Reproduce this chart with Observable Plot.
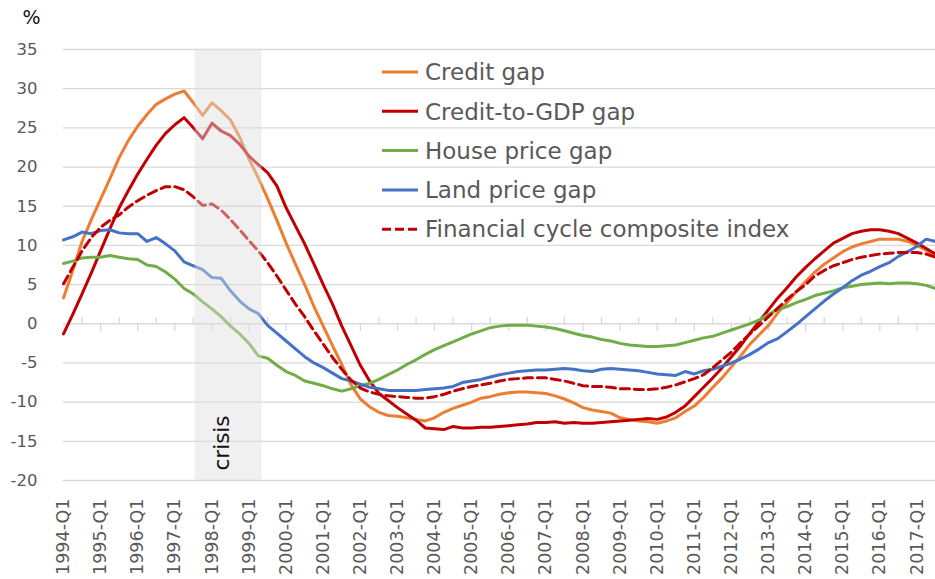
<!DOCTYPE html>
<html>
<head>
<meta charset="utf-8">
<script src="https://cdn.jsdelivr.net/npm/d3@7"></script>
<script src="https://cdn.jsdelivr.net/npm/@observablehq/plot@0.6"></script>
<style>
  html, body { margin: 0; padding: 0; background: #fff; }
  #chart { width: 935px; height: 579px; }
</style>
</head>
<body>
<div id="chart"></div>
<script>
// ---- Data ----
const startYear = 1994;
const nQuarters = 95; // 1994-Q1 .. 2017-Q3
const quarters = Array.from({length: nQuarters}, (_, i) => `${startYear + Math.floor(i / 4)}-Q${(i % 4) + 1}`);

const xTickLabels = ["1994-Q1","1995-Q1","1996-Q1","1997-Q1","1998-Q1","1999-Q1","2000-Q1","2001-Q1",
  "2002-Q1","2003-Q1","2004-Q1","2005-Q1","2006-Q1","2007-Q1","2008-Q1","2009-Q1","2010-Q1","2011-Q1",
  "2012-Q1","2013-Q1","2014-Q1","2015-Q1","2016-Q1","2017-Q1"];
const yTicks = [-20, -15, -10, -5, 0, 5, 10, 15, 20, 25, 30, 35];

const crisisPeriod = ["1997-Q3", "1999-Q2"];

const creditGap = [
  3.3, 6.8, 10.5, 13.3, 15.9, 18.5, 21.2, 23.4, 25.2, 26.7, 28.0, 28.7, 29.3, 29.7, 28.2, 26.6,
  28.2, 27.2, 26.0, 23.8, 21.0, 18.6, 16.0, 13.2, 10.3, 7.6, 5.0, 2.2, -0.3, -2.8, -5.2, -7.8,
  -9.6, -10.6, -11.3, -11.7, -11.8, -12.0, -12.2, -12.4, -12.0, -11.3, -10.8, -10.4, -10.0, -9.5, -9.3, -9.0,
  -8.8, -8.7, -8.7, -8.8, -8.9, -9.2, -9.6, -10.1, -10.7, -11.0, -11.2, -11.4, -12.0, -12.2, -12.4, -12.5,
  -12.7, -12.4, -12.0, -11.2, -10.5, -9.4, -8.1, -6.9, -5.5, -4.1, -2.6, -1.4, -0.2, 1.4, 2.7, 4.1,
  5.4, 6.6, 7.6, 8.4, 9.2, 9.8, 10.2, 10.5, 10.8, 10.8, 10.8, 10.5, 10.0, 9.4, 8.8
];
const creditToGdpGap = [
  -1.3, 1.2, 3.8, 6.5, 9.3, 12.1, 14.8, 17.0, 19.1, 21.0, 22.8, 24.3, 25.4, 26.3, 25.0, 23.6,
  25.6, 24.6, 24.0, 22.9, 21.4, 20.3, 19.3, 17.6, 14.8, 12.5, 10.2, 7.6, 5.0, 2.5, -0.3, -2.8,
  -5.3, -7.3, -8.9, -9.8, -10.7, -11.5, -12.3, -13.3, -13.4, -13.5, -13.1, -13.3, -13.3, -13.2, -13.2, -13.1,
  -13.0, -12.9, -12.8, -12.6, -12.6, -12.5, -12.7, -12.6, -12.7, -12.7, -12.6, -12.5, -12.4, -12.3, -12.2, -12.1,
  -12.2, -11.9, -11.3, -10.5, -9.3, -8.1, -6.9, -5.6, -4.2, -2.8, -1.2, 0.3, 1.8, 3.3, 4.6, 6.0,
  7.2, 8.3, 9.3, 10.3, 10.9, 11.5, 11.8, 12.0, 12.0, 11.8, 11.5, 10.9, 10.3, 9.6, 8.9
];
const housePriceGap = [
  7.7, 8.0, 8.4, 8.5, 8.5, 8.7, 8.5, 8.3, 8.2, 7.5, 7.3, 6.6, 5.7, 4.5, 3.8, 2.8,
  1.9, 0.9, -0.3, -1.3, -2.5, -4.1, -4.4, -5.3, -6.1, -6.6, -7.3, -7.6, -7.9, -8.3, -8.6, -8.3,
  -7.9, -7.6, -7.1, -6.5, -5.9, -5.2, -4.6, -3.9, -3.3, -2.8, -2.3, -1.8, -1.3, -0.9, -0.5, -0.3,
  -0.2, -0.2, -0.2, -0.3, -0.4, -0.6, -0.9, -1.2, -1.5, -1.7, -2.0, -2.2, -2.5, -2.7, -2.8, -2.9,
  -2.9, -2.8, -2.7, -2.4, -2.1, -1.8, -1.6, -1.2, -0.8, -0.4, 0.0, 0.5, 1.2, 1.8, 2.2, 2.7,
  3.1, 3.6, 3.9, 4.2, 4.6, 4.8, 5.0, 5.1, 5.2, 5.1, 5.2, 5.2, 5.1, 4.9, 4.5
];
const landPriceGap = [
  10.7, 11.1, 11.7, 11.5, 11.9, 12.0, 11.6, 11.5, 11.5, 10.5, 11.0, 10.2, 9.3, 7.9, 7.4, 6.9,
  5.9, 5.8, 4.2, 2.9, 1.9, 1.3, -0.2, -1.2, -2.2, -3.2, -4.2, -5.0, -5.6, -6.3, -7.0, -7.3,
  -7.7, -8.1, -8.3, -8.5, -8.5, -8.5, -8.5, -8.4, -8.3, -8.2, -8.0, -7.5, -7.3, -7.1, -6.8, -6.5,
  -6.3, -6.1, -6.0, -5.9, -5.9, -5.8, -5.7, -5.8, -6.0, -6.1, -5.8, -5.7, -5.8, -5.9, -6.0, -6.2,
  -6.4, -6.5, -6.6, -6.1, -6.4, -6.0, -5.8, -5.4, -5.0, -4.5, -3.9, -3.2, -2.4, -1.9, -1.0, -0.1,
  0.9, 1.9, 2.9, 3.8, 4.6, 5.5, 6.2, 6.7, 7.3, 7.8, 8.6, 9.2, 9.9, 10.8, 10.5
];
const financialCycleIndex = [
  5.1, 7.2, 9.3, 11.0, 12.3, 13.2, 13.9, 14.9, 15.7, 16.4, 17.0, 17.5, 17.5, 17.1, 16.2, 15.1,
  15.3, 14.5, 13.3, 12.0, 10.6, 9.3, 7.8, 6.1, 4.3, 2.5, 0.9, -0.9, -2.6, -4.3, -5.8, -7.2,
  -8.2, -8.7, -9.0, -9.2, -9.3, -9.4, -9.5, -9.5, -9.3, -9.0, -8.6, -8.3, -8.0, -7.8, -7.6, -7.3,
  -7.1, -7.0, -6.9, -6.9, -6.9, -7.1, -7.3, -7.6, -7.9, -8.0, -8.0, -8.1, -8.3, -8.3, -8.4, -8.4,
  -8.3, -8.1, -7.8, -7.4, -7.0, -6.5, -5.6, -4.6, -3.6, -2.4, -1.3, -0.2, 0.9, 2.0, 3.1, 4.1,
  5.0, 6.1, 6.8, 7.4, 7.8, 8.2, 8.5, 8.7, 8.9, 9.0, 9.1, 9.1, 9.1, 8.9, 8.5
];

const seriesNames = ["Credit gap", "Credit-to-GDP gap", "House price gap", "Land price gap", "Financial cycle composite index"];
const seriesValues = [creditGap, creditToGdpGap, housePriceGap, landPriceGap, financialCycleIndex];

// ---- Styles ----
const seriesStyle = {
  "Credit gap": {stroke: "#ED7D31", dash: null},
  "Credit-to-GDP gap": {stroke: "#C00000", dash: null},
  "House price gap": {stroke: "#70AD47", dash: null},
  "Land price gap": {stroke: "#4472C4", dash: null},
  "Financial cycle composite index": {stroke: "#C00000", dash: "9,5"}
};

// quarter label -> numeric time (years)
const qTime = (label) => {
  const [y, q] = label.split("-Q");
  return +y + (+q - 1) / 4;
};

const rows = [];
seriesNames.forEach((name, s) => {
  seriesValues[s].forEach((v, i) => rows.push({series: name, t: qTime(quarters[i]), value: v}));
});

const crisis = [{x1: qTime(crisisPeriod[0]) + 0.05, x2: qTime(crisisPeriod[1]) + 0.1}];
const xLabelTicks = xTickLabels.map(qTime);
const midYearTicks = xLabelTicks.map(t => t + 0.5).filter(t => t <= qTime(quarters[nQuarters - 1]));

const FONT = "DejaVu Sans, Verdana, sans-serif";
const TEXT = "#595959";

const legendMark = (index, scales, values, dims) => {
  const g = d3.create("svg:g").attr("font-family", FONT).attr("font-size", 23).attr("text-anchor", "start");
  const x0 = dims.marginLeft + 319;
  const y0 = 72;
  seriesNames.forEach((name, k) => {
    const st = seriesStyle[name];
    const y = y0 + k * 39.3;
    g.append("line").attr("x1", x0).attr("x2", x0 + 36).attr("y1", y).attr("y2", y)
      .attr("stroke", st.stroke).attr("stroke-width", 3)
      .attr("stroke-dasharray", st.dash ? "9,4" : null);
    g.append("text").attr("x", x0 + 43).attr("y", y).attr("dy", "0.36em")
      .attr("fill", TEXT).text(name);
  });
  return g.node();
};

const chart = Plot.plot({
  width: 935,
  height: 579,
  marginLeft: 63,
  marginRight: 0,
  marginTop: 49,
  marginBottom: 99,
  style: {fontFamily: FONT, background: "#fff", overflow: "visible"},
  x: {type: "linear", domain: [qTime(quarters[0]), qTime(quarters[nQuarters - 1])]},
  y: {domain: [-20, 35]},
  marks: [
    Plot.gridY(yTicks, {stroke: "#d9d9d9", strokeOpacity: 1, strokeWidth: 1.3}),
    Plot.ruleX(xLabelTicks.slice(1), {y1: 0, y2: -1.0, stroke: "#d9d9d9", strokeWidth: 1.3}),
    Plot.ruleX(midYearTicks, {y1: 0, y2: 0.8, stroke: "#d9d9d9", strokeWidth: 1.3}),
    Plot.axisY(yTicks, {tickSize: 0, tickPadding: 26, fontSize: 16.5, color: TEXT, label: null,
      tickFormat: d => String(d)}),
    Plot.axisX(xLabelTicks, {tickSize: 0, tickPadding: 18, tickRotate: -90, fontSize: 17.5, color: TEXT,
      tickFormat: t => xTickLabels[xLabelTicks.indexOf(t)], label: null}),
    ...seriesNames.map(name => Plot.line(rows.filter(d => d.series === name), {
      x: "t", y: "value", stroke: seriesStyle[name].stroke, strokeWidth: 3,
      strokeDasharray: seriesStyle[name].dash, strokeLinejoin: "round", curve: "linear"
    })),
    Plot.rectX(crisis, {x1: "x1", x2: "x2", y1: -20, y2: 35, fill: "#dddddd", fillOpacity: 0.45}),
    Plot.text(["crisis"], {x: qTime(crisisPeriod[0]) / 2 + qTime(crisisPeriod[1]) / 2 + 0.075, frameAnchor: "bottom",
      text: d => d, rotate: -90, textAnchor: "start", dy: -10, fontSize: 21.5, fill: "#111"}),
    Plot.text(["%"], {frameAnchor: "top-left", text: d => d, dx: -41, dy: -39, fontSize: 19, fill: "#111", textAnchor: "start"}),
    legendMark
  ]
});

document.getElementById("chart").appendChild(chart);
</script>
</body>
</html>
